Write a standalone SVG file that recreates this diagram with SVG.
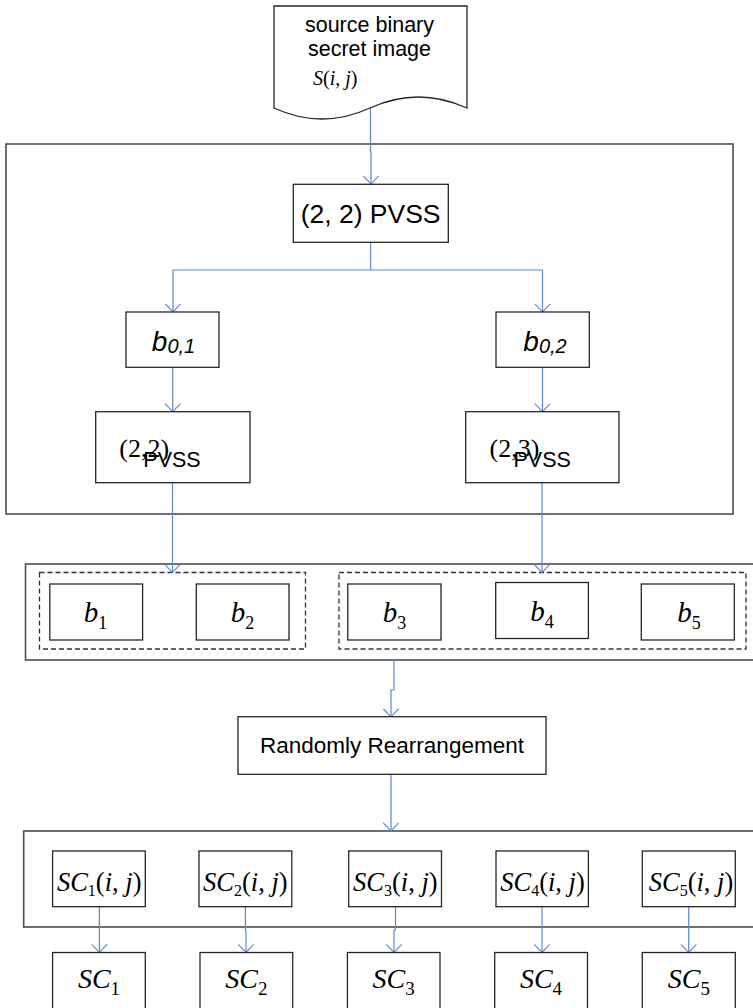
<svg xmlns="http://www.w3.org/2000/svg" width="753" height="1008" viewBox="0 0 753 1008">
  <defs>
    <marker id="arrow" markerUnits="userSpaceOnUse" viewBox="0 0 10 17" markerWidth="10" markerHeight="17" refX="8.6" refY="8.5" orient="auto">
      <path d="M0.5,0.8 L8.6,8.5 L0.5,16.2" fill="none" stroke="#5b8ad0" stroke-width="1.1"/>
    </marker>
    <style>
      .box{fill:#fff;stroke:#262626;stroke-width:1.3}
      .frame{fill:none;stroke:#4d4d4d;stroke-width:1.6}
      .dash{fill:none;stroke:#333;stroke-width:1.3;stroke-dasharray:5 3}
      .conn{fill:none;stroke:#5b8ad0;stroke-width:1.2}
      .arr{marker-end:url(#arrow)}
      .sans{font-family:"Liberation Sans",Arial,sans-serif;fill:#000}
      .serif{font-family:"Liberation Serif","Times New Roman",serif;fill:#000}
      .it{font-style:italic}
    </style>
  </defs>

  <rect x="0" y="0" width="753" height="1008" fill="#fff"/>

  <!-- container frames -->
  <g id="frames">
    <rect class="frame" x="6" y="144" width="727" height="370"/>
    <rect class="frame" x="25.5" y="564" width="745" height="96"/>
    <rect class="dash" x="39.5" y="572.5" width="266" height="76.5"/>
    <rect class="dash" x="339" y="572.5" width="407" height="76.5"/>
    <rect class="frame" x="23.7" y="831" width="745" height="96"/>
  </g>

  <!-- connectors -->
  <g id="connectors">
    <path class="conn arr" d="M370.5,108 V152 H371 V184"/>
    <path class="conn" d="M370.7,242.5 V270 M173,270 H542.5"/>
    <path class="conn arr" d="M173,270 V312"/>
    <path class="conn arr" d="M542.5,270 V312"/>
    <path class="conn arr" d="M172.7,367.5 V411.7"/>
    <path class="conn arr" d="M542.5,367.5 V411.7"/>
    <path class="conn arr" d="M172.5,483 V572.5"/>
    <path class="conn arr" d="M542,483 V572.5"/>
    <path class="conn arr" d="M394,660 V690 H391 V717"/>
    <path class="conn arr" d="M391,774.5 V831"/>
    <path class="conn arr" d="M99.4,907 V952.5"/>
    <path class="conn arr" d="M245.4,907 V930 H246 V952.5"/>
    <path class="conn arr" d="M395.5,907 V930 H394 V952.5"/>
    <path class="conn arr" d="M542,907 V952.5"/>
    <path class="conn arr" d="M688.7,907 V952.5"/>
  </g>

  <!-- source document -->
  <g id="source">
    <path class="box" d="M274,6 H467 V108 Q418,86 370,108 T274,108 Z"/>
    <text class="sans" x="369.5" y="31.7" font-size="21.5" text-anchor="middle">source binary</text>
    <text class="sans" x="369.5" y="56" font-size="21.5" text-anchor="middle">secret image</text>
    <text class="serif" x="313" y="85" font-size="20"><tspan class="it">S</tspan>(<tspan class="it">i</tspan>, <tspan class="it">j</tspan>)</text>
  </g>

  <g id="pvss22">
    <rect class="box" x="293.3" y="184.3" width="155" height="58"/>
    <text class="sans" x="370.6" y="223.3" font-size="26.5" text-anchor="middle">(2, 2) PVSS</text>
  </g>

  <g id="b01">
    <rect class="box" x="126" y="312" width="93" height="55.3"/>
    <text class="sans it" x="173.5" y="350.7" font-size="28" text-anchor="middle">b<tspan font-size="20" dy="2.6">0,1</tspan></text>
  </g>
  <g id="b02">
    <rect class="box" x="496" y="312" width="93.3" height="55.3"/>
    <text class="sans it" x="545" y="350.7" font-size="28" text-anchor="middle">b<tspan font-size="20" dy="2.6">0,2</tspan></text>
  </g>

  <g id="pvss-left">
    <rect class="box" x="95.7" y="411.7" width="154.3" height="71"/>
    <text class="serif" x="119.3" y="456.7" font-size="26">(2,2)</text>
    <text class="sans" x="143.3" y="466.7" font-size="21.5">PVSS</text>
  </g>
  <g id="pvss-right">
    <rect class="box" x="465.7" y="411.7" width="153.3" height="71"/>
    <text class="serif" x="489.5" y="456.7" font-size="26">(2,3)</text>
    <text class="sans" x="513.5" y="466.7" font-size="21.5">PVSS</text>
  </g>

  <!-- shares -->
  <g id="b1">
    <rect class="box" x="49.8" y="584" width="92.8" height="56"/>
    <text class="serif" x="95.5" y="622" font-size="29" text-anchor="middle"><tspan class="it">b</tspan><tspan font-size="18" dy="7">1</tspan></text>
  </g>
  <g id="b2">
    <rect class="box" x="196.3" y="584" width="92.7" height="56"/>
    <text class="serif" x="242.5" y="622" font-size="29" text-anchor="middle"><tspan class="it">b</tspan><tspan font-size="18" dy="7">2</tspan></text>
  </g>
  <g id="b3">
    <rect class="box" x="347.8" y="584" width="93.2" height="56"/>
    <text class="serif" x="394.5" y="622" font-size="29" text-anchor="middle"><tspan class="it">b</tspan><tspan font-size="18" dy="7">3</tspan></text>
  </g>
  <g id="b4">
    <rect class="box" x="495.7" y="582.5" width="92.7" height="56"/>
    <text class="serif" x="542" y="620.5" font-size="29" text-anchor="middle"><tspan class="it">b</tspan><tspan font-size="18" dy="7">4</tspan></text>
  </g>
  <g id="b5">
    <rect class="box" x="641.3" y="584" width="93" height="56"/>
    <text class="serif" x="689" y="622" font-size="29" text-anchor="middle"><tspan class="it">b</tspan><tspan font-size="18" dy="7">5</tspan></text>
  </g>

  <g id="rearrange">
    <rect class="box" x="238" y="716.7" width="308" height="57.6"/>
    <text class="sans" x="392" y="752.5" font-size="22.5" text-anchor="middle">Randomly Rearrangement</text>
  </g>

  <!-- shuffled shares -->
  <g id="sc1ij">
    <rect class="box" x="52.6" y="851" width="92.7" height="55.7"/>
    <text class="serif" x="99.2" y="891" font-size="26.5" text-anchor="middle"><tspan class="it">SC</tspan><tspan font-size="16" dy="5">1</tspan><tspan dy="-5">(</tspan><tspan class="it">i</tspan>, <tspan class="it">j</tspan>)</text>
  </g>
  <g id="sc2ij">
    <rect class="box" x="199" y="851" width="92.8" height="55.7"/>
    <text class="serif" x="245.4" y="891" font-size="26.5" text-anchor="middle"><tspan class="it">SC</tspan><tspan font-size="16" dy="5">2</tspan><tspan dy="-5">(</tspan><tspan class="it">i</tspan>, <tspan class="it">j</tspan>)</text>
  </g>
  <g id="sc3ij">
    <rect class="box" x="348.7" y="851" width="92.8" height="55.7"/>
    <text class="serif" x="395.3" y="891" font-size="26.5" text-anchor="middle"><tspan class="it">SC</tspan><tspan font-size="16" dy="5">3</tspan><tspan dy="-5">(</tspan><tspan class="it">i</tspan>, <tspan class="it">j</tspan>)</text>
  </g>
  <g id="sc4ij">
    <rect class="box" x="496" y="851" width="92.4" height="55.7"/>
    <text class="serif" x="542.5" y="891" font-size="26.5" text-anchor="middle"><tspan class="it">SC</tspan><tspan font-size="16" dy="5">4</tspan><tspan dy="-5">(</tspan><tspan class="it">i</tspan>, <tspan class="it">j</tspan>)</text>
  </g>
  <g id="sc5ij">
    <rect class="box" x="642.3" y="851" width="93" height="55.7"/>
    <text class="serif" x="691" y="891" font-size="26.5" text-anchor="middle"><tspan class="it">SC</tspan><tspan font-size="16" dy="5">5</tspan><tspan dy="-5">(</tspan><tspan class="it">i</tspan>, <tspan class="it">j</tspan>)</text>
  </g>

  <!-- outputs -->
  <g id="sc1">
    <rect class="box" x="52.6" y="952.5" width="92.7" height="65"/>
    <text class="serif" x="99" y="987.7" font-size="28" text-anchor="middle"><tspan class="it">SC</tspan><tspan font-size="19" dy="7">1</tspan></text>
  </g>
  <g id="sc2">
    <rect class="box" x="200" y="952.5" width="92.7" height="65"/>
    <text class="serif" x="246.4" y="987.7" font-size="28" text-anchor="middle"><tspan class="it">SC</tspan><tspan font-size="19" dy="7">2</tspan></text>
  </g>
  <g id="sc3">
    <rect class="box" x="347.4" y="952.5" width="92.6" height="65"/>
    <text class="serif" x="393.7" y="987.7" font-size="28" text-anchor="middle"><tspan class="it">SC</tspan><tspan font-size="19" dy="7">3</tspan></text>
  </g>
  <g id="sc4">
    <rect class="box" x="494.7" y="952.5" width="92.8" height="65"/>
    <text class="serif" x="541" y="987.7" font-size="28" text-anchor="middle"><tspan class="it">SC</tspan><tspan font-size="19" dy="7">4</tspan></text>
  </g>
  <g id="sc5">
    <rect class="box" x="642.3" y="952.5" width="93" height="65"/>
    <text class="serif" x="688.8" y="987.7" font-size="28" text-anchor="middle"><tspan class="it">SC</tspan><tspan font-size="19" dy="7">5</tspan></text>
  </g>
</svg>
